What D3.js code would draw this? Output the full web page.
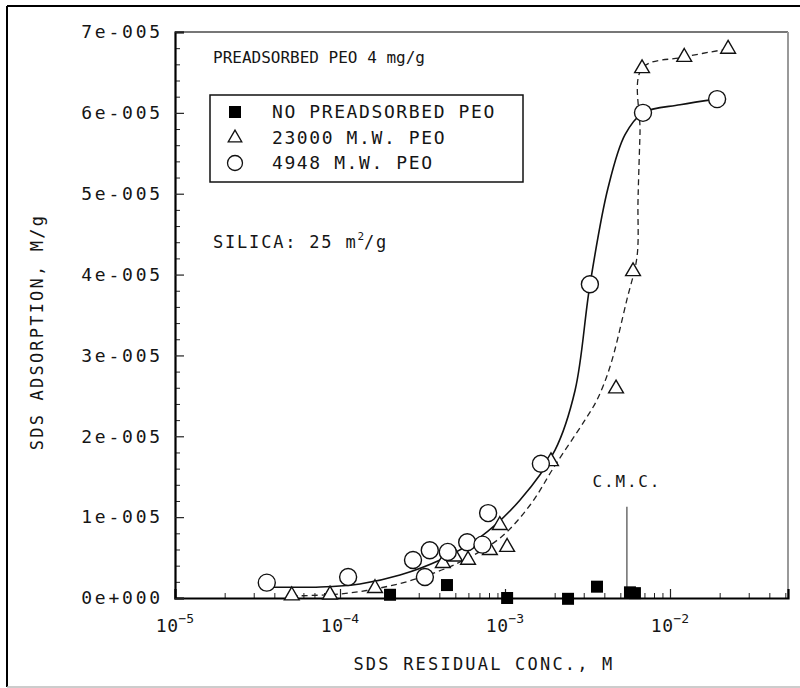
<!DOCTYPE html>
<html><head><meta charset="utf-8">
<script src="https://cdn.jsdelivr.net/npm/d3@7"></script>
<style>
body{margin:0;background:#fff}
text{font-family:"DejaVu Sans Mono",monospace;fill:#151515}
</style>
</head><body>
<svg id="chart" width="800" height="688"></svg>
<script>
// ---- data ----
const yTickValues = [0, 1e-5, 2e-5, 3e-5, 4e-5, 5e-5, 6e-5, 7e-5];
const yTickLabels = ["0e+000","1e-005","2e-005","3e-005","4e-005","5e-005","6e-005","7e-005"];
const xTickValues = [1e-5, 1e-4, 1e-3, 1e-2];
const xTickExponents = ["\u22125","\u22124","\u22123","\u22122"];

// No preadsorbed PEO (filled squares)
const noPeoX = [2.01e-4, 4.45e-4, 1.03e-3, 2.41e-3, 3.61e-3, 5.72e-3, 6.13e-3];
const noPeoY = [0.4e-6, 1.6e-6, 0.0, -0.1e-6, 1.4e-6, 0.7e-6, 0.6e-6];

// 23000 M.W. PEO (open triangles)
const peo23000X = [5.1e-5, 8.7e-5, 1.63e-4, 4.2e-4, 4.98e-4, 5.97e-4, 8.1e-4, 9.3e-4, 1.03e-3, 1.9e-3, 4.71e-3, 5.97e-3, 6.77e-3, 1.22e-2, 2.25e-2];
const peo23000Y = [0.3e-6, 0.4e-6, 1.2e-6, 4.3e-6, 5.1e-6, 4.7e-6, 5.9e-6, 9.0e-6, 6.3e-6, 16.9e-6, 25.9e-6, 40.4e-6, 65.5e-6, 66.9e-6, 67.9e-6];

// 4948 M.W. PEO (open circles)
const peo4948X = [3.6e-5, 1.12e-4, 2.77e-4, 3.27e-4, 3.5e-4, 4.5e-4, 5.9e-4, 7.3e-4, 7.9e-4, 1.65e-3, 3.27e-3, 6.86e-3, 1.93e-2];
const peo4948Y = [1.9e-6, 2.6e-6, 4.7e-6, 2.6e-6, 5.9e-6, 5.7e-6, 6.9e-6, 6.6e-6, 10.5e-6, 16.6e-6, 38.8e-6, 60.0e-6, 61.7e-6];

// hand-drawn fit curves
const solidFitX = [3.6e-5, 7.6e-5, 1.32e-4, 2.31e-4, 4.04e-4, 7.05e-4, 1.23e-3, 2.01e-3, 2.66e-3, 3.27e-3, 4.21e-3, 5.34e-3, 6.86e-3, 1.15e-2, 1.93e-2];
const solidFitY = [1.36e-6, 1.36e-6, 1.73e-6, 2.84e-6, 4.7e-6, 7.5e-6, 12.1e-6, 18.3e-6, 25.7e-6, 38.7e-6, 50.7e-6, 57.3e-6, 60.0e-6, 61.0e-6, 61.7e-6];
const dashFitX = [5.1e-5, 1.0e-4, 1.75e-4, 3.05e-4, 5.34e-4, 9.3e-4, 1.42e-3, 2.01e-3, 3.05e-3, 3.61e-3, 4.33e-3, 5.48e-3, 6.31e-3, 6.4e-3, 6.58e-3, 6.77e-3, 1.22e-2, 2.25e-2];
const dashFitY = [0.25e-6, 0.5e-6, 1.24e-6, 2.5e-6, 4.45e-6, 7.4e-6, 11.5e-6, 16.4e-6, 22.0e-6, 24.5e-6, 28.6e-6, 36.9e-6, 42.2e-6, 49.2e-6, 57.5e-6, 65.5e-6, 66.9e-6, 67.9e-6];

const cmcX = 5.48e-3;
const cmcTop = 11.3e-6;

// ---- drawing ----
const svg = d3.select("#chart");
const L = 175, R = 788, T = 32, B = 598;
const x = d3.scaleLog().domain([1e-5, 0.0519]).range([L, R]);
const y = d3.scaleLinear().domain([0, 7e-5]).range([B, T]);

// outer frame
svg.append("line").attr("x1",7).attr("y1",6).attr("x2",7).attr("y2",687).attr("stroke","#000").attr("stroke-width",2);
svg.append("line").attr("x1",7).attr("y1",6).attr("x2",800).attr("y2",6).attr("stroke","#000").attr("stroke-width",2);
svg.append("line").attr("x1",7).attr("y1",687).attr("x2",800).attr("y2",687).attr("stroke","#bbb").attr("stroke-width",1.5);

// plot top/right border (light)
svg.append("line").attr("x1",L).attr("y1",T).attr("x2",R).attr("y2",T).attr("stroke","#777").attr("stroke-width",2);
svg.append("line").attr("x1",R).attr("y1",T).attr("x2",R).attr("y2",B).attr("stroke","#999").attr("stroke-width",2);

// minor ticks x
const minorX = [];
for (let e = -5; e <= -2; e++) for (let m = 2; m <= 9; m++) { const v = m * Math.pow(10, e); if (v < 0.0519) minorX.push(v); }
svg.append("g").attr("transform",`translate(0,${B})`).call(d3.axisBottom(x).tickValues(minorX).tickSize(-5).tickFormat(""))
  .call(g => g.select(".domain").remove())
  .call(g => g.selectAll("line").attr("stroke","#222").attr("stroke-width",1));
svg.append("g").attr("transform",`translate(0,${B})`).call(d3.axisBottom(x).tickValues(xTickValues).tickSize(-9).tickFormat(""))
  .call(g => g.select(".domain").attr("stroke","#000").attr("stroke-width",2.2))
  .call(g => g.selectAll("line").attr("stroke","#222").attr("stroke-width",1.2));
// x tick labels with superscripts
xTickValues.forEach((v, i) => {
  const t = svg.append("text").attr("x", x(v)).attr("y", 632).attr("text-anchor","middle").style("font-size","18px").style("letter-spacing","0.5px");
  t.append("tspan").text("10");
  t.append("tspan").attr("dy", -9).style("font-size","13px").style("letter-spacing","0px").text(xTickExponents[i]);
});

// y axis
const yMinor = d3.range(0, 7.01e-5, 2e-6).filter(v => yTickValues.every(t => Math.abs(t - v) > 1e-9));
svg.append("g").attr("transform",`translate(${L},0)`).call(d3.axisLeft(y).tickValues(yMinor).tickSize(-5).tickFormat(""))
  .call(g => g.select(".domain").remove())
  .call(g => g.selectAll("line").attr("stroke","#222"));
svg.append("g").attr("transform",`translate(${L},0)`)
  .call(d3.axisLeft(y).tickValues(yTickValues).tickSize(-9).tickPadding(12).tickFormat((d,i) => yTickLabels[i]))
  .call(g => g.select(".domain").attr("stroke","#000").attr("stroke-width",2.2))
  .call(g => g.selectAll("line").attr("stroke","#222").attr("stroke-width",1.2))
  .call(g => g.selectAll("text").style("font-size","18px").style("font-family","'DejaVu Sans Mono',monospace").attr("fill","#151515").style("letter-spacing","2.8px"));

// axis titles
svg.append("text").attr("x", 484).attr("y", 670).attr("text-anchor","middle").style("font-size","17px").style("letter-spacing","2.2px").text("SDS RESIDUAL CONC., M");
svg.append("text").attr("transform", "translate(43,332) rotate(-90)").attr("text-anchor","middle").style("font-size","17px").style("letter-spacing","2.2px").text("SDS ADSORPTION, M/g");

// fit curves
const line = d3.line().x(d => x(d[0])).y(d => y(d[1])).curve(d3.curveCatmullRom.alpha(0.5));
svg.append("path").datum(solidFitX.map((v,i)=>[v, solidFitY[i]])).attr("d", line).attr("fill","none").attr("stroke","#111").attr("stroke-width",1.6);
svg.append("path").datum(dashFitX.map((v,i)=>[v, dashFitY[i]])).attr("d", line).attr("fill","none").attr("stroke","#222").attr("stroke-width",1.3).attr("stroke-dasharray","6,4");

// CMC
svg.append("line").attr("x1", x(cmcX)).attr("x2", x(cmcX)).attr("y1", y(cmcTop)).attr("y2", B).attr("stroke","#555").attr("stroke-width",1.3);
svg.append("text").attr("x", x(cmcX)).attr("y", 487).attr("text-anchor","middle").style("font-size","16px").style("letter-spacing","1.8px").text("C.M.C.");

// markers
const tri = d3.symbol().type(d3.symbolTriangle).size(95);
svg.append("g").selectAll("path").data(peo23000X.map((v,i)=>[v, peo23000Y[i]])).join("path")
  .attr("d", tri).attr("transform", d => `translate(${x(d[0])},${y(d[1])})`)
  .attr("fill","#fff").attr("stroke","#111").attr("stroke-width",1.4);
svg.append("g").selectAll("circle").data(peo4948X.map((v,i)=>[v, peo4948Y[i]])).join("circle")
  .attr("cx", d => x(d[0])).attr("cy", d => y(d[1])).attr("r", 8.5)
  .attr("fill","#fff").attr("stroke","#111").attr("stroke-width",1.4);
svg.append("g").selectAll("rect").data(noPeoX.map((v,i)=>[v, noPeoY[i]])).join("rect")
  .attr("x", d => x(d[0]) - 6).attr("y", d => y(d[1]) - 6).attr("width",12).attr("height",12).attr("fill","#000");

// annotations
svg.append("text").attr("x", 213).attr("y", 63).style("font-size","16px").text("PREADSORBED PEO 4 mg/g");
const sil = svg.append("text").attr("x", 213).attr("y", 248).style("font-size","17px").style("letter-spacing","1.8px");
sil.append("tspan").text("SILICA: 25 m");
sil.append("tspan").attr("dy",-8).style("font-size","11px").style("letter-spacing","0px").text("2");
sil.append("tspan").attr("dy",8).text("/g");

// legend
const lg = svg.append("g");
lg.append("rect").attr("x",210).attr("y",95).attr("width",313).attr("height",87).attr("fill","#fff").attr("stroke","#111").attr("stroke-width",1.5);
const legendLabels = ["NO PREADSORBED PEO", "23000 M.W. PEO", "4948 M.W. PEO"];
const rowsY = [112, 138, 163];
lg.append("rect").attr("x",229).attr("y",rowsY[0]-6).attr("width",12).attr("height",12).attr("fill","#000");
lg.append("path").attr("d", d3.symbol().type(d3.symbolTriangle).size(80)).attr("transform",`translate(235,${rowsY[1]})`).attr("fill","#fff").attr("stroke","#111").attr("stroke-width",1.3);
lg.append("circle").attr("cx",235).attr("cy",rowsY[2]).attr("r",7.5).attr("fill","#fff").attr("stroke","#111").attr("stroke-width",1.3);
legendLabels.forEach((t,i) => lg.append("text").attr("x",272).attr("y",rowsY[i]+6).style("font-size","18px").style("letter-spacing","1.6px").text(t));
</script>
</body></html>
